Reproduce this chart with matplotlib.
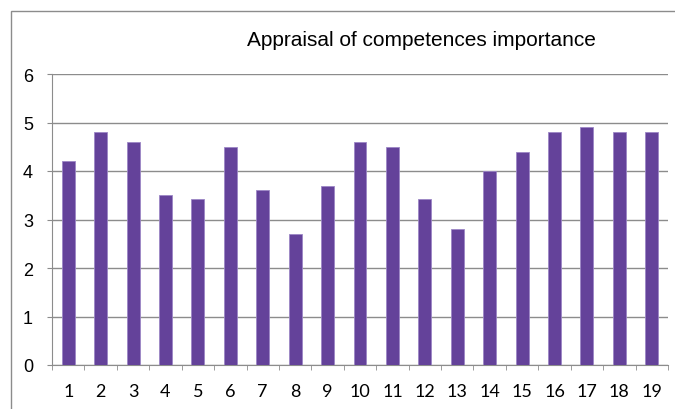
import numpy as np
import matplotlib
matplotlib.use('Agg')
import matplotlib.pyplot as plt
from matplotlib.patches import Rectangle

competences = list(range(1, 20))
scores = [4.2, 4.8, 4.6, 3.5, 3.43, 4.5, 3.6, 2.7, 3.7, 4.6,
          4.5, 3.43, 2.8, 4.0, 4.4, 4.8, 4.9, 4.8, 4.8]
y_ticks = [0, 1, 2, 3, 4, 5, 6]

W, H = 675, 410
fig = plt.figure(figsize=(6.75, 4.1), dpi=100)
ax = fig.add_axes([52 / W, 1 - 366 / H, 616 / W, 291 / H])

x = np.arange(len(competences))
ax.bar(x, scores, width=0.4, color='#64429a', edgecolor='#9c86c6', linewidth=0.6, zorder=3)

ax.set_xlim(-0.5, len(competences) - 0.5)
ax.set_ylim(0, 6)
ax.set_yticks(y_ticks)
ax.set_yticklabels([str(v) for v in y_ticks], fontsize=13, family='Liberation Sans')
ax.yaxis.grid(True, color='#8c8c8c', linewidth=1)
ax.set_axisbelow(True)

# category labels centred, tick marks between categories
ax.set_xticks(x)
ax.set_xticklabels([str(c) for c in competences], fontsize=13, family='Lato')
ax.tick_params(axis='x', length=0, pad=13)
ax.set_xticks(np.arange(-0.5, len(competences)), minor=True)
ax.tick_params(axis='x', which='minor', length=3.6, color='#8c8c8c', direction='out')
ax.tick_params(axis='y', length=3.6, color='#8c8c8c', pad=10)

for side in ['top', 'right']:
    ax.spines[side].set_visible(False)
ax.spines['left'].set_color('#8c8c8c')
ax.spines['bottom'].set_color('#8c8c8c')

fig.text(421 / W, 1 - 40 / H, 'Appraisal of competences importance',
         ha='center', va='center', fontsize=15, family='Liberation Sans')

# outer chart border
fig.patches.append(Rectangle((11 / W, -0.05), 1.1, 1 - 12 / H + 0.05,
                             transform=fig.transFigure, fill=False,
                             edgecolor='#8c8c8c', linewidth=1))

fig.savefig('out.png', dpi=100)
